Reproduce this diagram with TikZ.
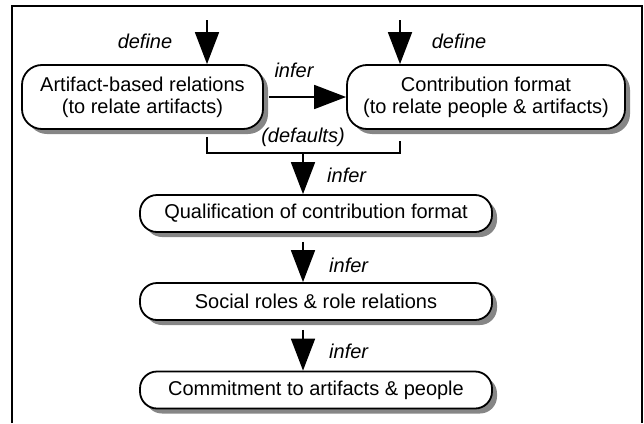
\documentclass[tikz,border=0pt]{standalone}
\usepackage{fontspec}
\setmainfont{Liberation Sans}
\usetikzlibrary{arrows.meta,shadows}
\begin{document}
\begin{tikzpicture}[x=1pt,y=-1pt,
  boxbase/.style={draw, line width=1.8pt, fill=white, align=center, inner sep=0pt,
    font=\fontsize{20}{22}\selectfont,
    drop shadow={shadow xshift=5pt, shadow yshift=-5pt, fill=gray!95, opacity=1}},
  bigbox/.style={boxbase, rounded corners=20pt, minimum height=64pt},
  smallbox/.style={boxbase, rounded corners=17pt, minimum height=37pt, minimum width=352pt},
  lbl/.style={font=\fontsize{20}{22}\selectfont\itshape, anchor=base, inner sep=0pt},
  arr/.style={line width=1.8pt, -{Triangle[width=24pt,length=32pt]}},
  ln/.style={line width=1.8pt}]
\useasboundingbox (0,0) rectangle (644,423);
% frame
\draw[line width=2pt] (12,423) -- (12,6) -- (642,6) -- (642,423);
% boxes
\node[bigbox, minimum width=241pt] (A) at (142.5,97) {Artifact-based relations\\(to relate artifacts)};
\node[bigbox, minimum width=278pt] (B) at (486,97) {Contribution format\\(to relate people \& artifacts)};
\node[smallbox] (Q) at (316,213.5) {Qualification of contribution format};
\node[smallbox] (S) at (316,301.5) {Social roles \& role relations};
\node[smallbox] (C) at (316,390) {Commitment to artifacts \& people};
% coordinates
\coordinate (tl) at (207,20);
\coordinate (tr) at (400,20);
\coordinate (bl) at (207,153);
\coordinate (br) at (400,153);
\coordinate (m) at (303,153);
% top arrows
\draw[arr] (tl) -- (tl |- A.north);
\draw[arr] (tr) -- (tr |- B.north);
\node[lbl] (d1) at (145,48) {define};
\node[lbl] (d2) at (459,48) {define};
% horizontal infer
\draw[arr] ([xshift=5pt]A.east) -- (B.west);
\node[lbl] (i0) at (294,77) {infer};
% defaults bracket
\draw[ln] ([yshift=-7pt]A.south -| bl) -- (bl) -- (br) -- ([yshift=-11pt]B.south -| br);
\node[lbl] (df) at (303,142) {(defaults)};
% vertical chain
\draw[arr] (m) -- (m |- Q.north);
\node[lbl, anchor=base west] (i1) at (327,182) {infer};
\draw[arr] ([yshift=-9pt]Q.south -| m) -- (S.north -| m);
\node[lbl, anchor=base west] (i2) at (329,272) {infer};
\draw[arr] ([yshift=-9pt]S.south -| m) -- (C.north -| m);
\node[lbl, anchor=base west] (i3) at (329,358) {infer};
\end{tikzpicture}
\end{document}
